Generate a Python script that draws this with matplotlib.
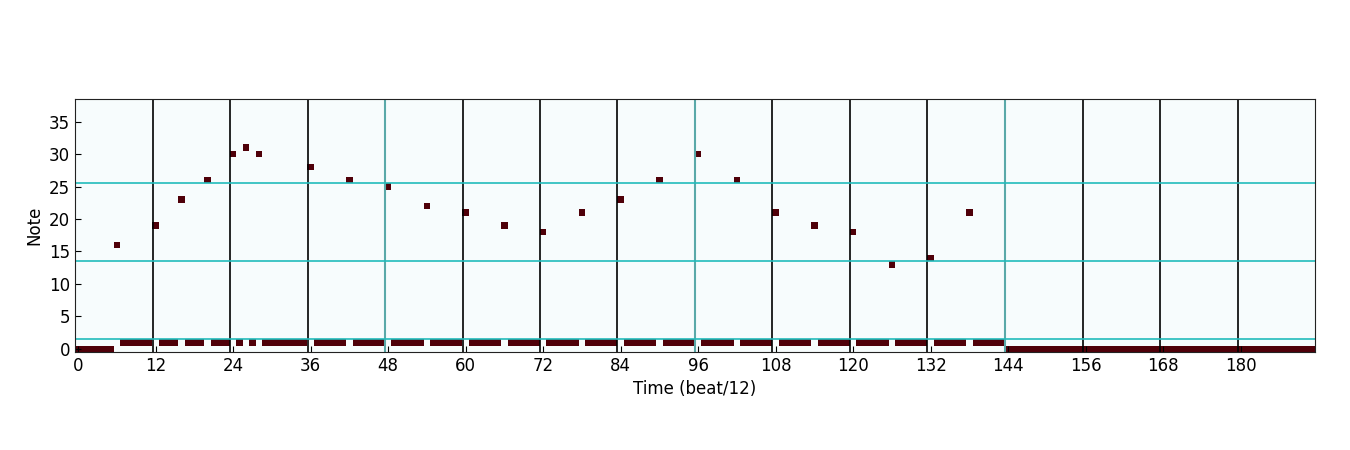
import numpy as np
import matplotlib
matplotlib.use("Agg")
import matplotlib.pyplot as plt
from matplotlib.colors import ListedColormap

# Data: note onsets (time step, pitch row); row 1 = hold, row 0 = rest
note_times = [6, 12, 16, 20, 24, 26, 28, 36, 42, 48, 54, 60, 66, 72, 78, 84,
              90, 96, 102, 108, 114, 120, 126, 132, 138]
note_pitches = [16, 19, 23, 26, 30, 31, 30, 28, 26, 25, 22, 21, 19, 18, 21, 23,
                26, 30, 26, 21, 19, 18, 13, 14, 21]
song_end = 144
n_steps = 192
n_rows = 39
xticks = list(range(0, 181, 12))
yticks = list(range(0, 36, 5))
beat_lines = [11.5, 23.5, 35.5, 59.5, 71.5, 83.5, 107.5, 119.5, 131.5, 155.5, 167.5, 179.5]
bar_lines = [47.5, 95.5, 143.5]
octave_lines = [1.5, 13.5, 25.5]

roll = np.zeros((n_rows, n_steps))
# rests
roll[0, :note_times[0]] = 1
roll[0, song_end:] = 1
ends = note_times[1:] + [song_end]
for t, p, e in zip(note_times, note_pitches, ends):
    roll[p, t] = 1
    roll[1, t + 1:e] = 1

fig = plt.figure(figsize=(13.5, 4.5), dpi=100)
ax = fig.add_axes([75 / 1350, 1 - 352 / 450, (1315 - 75) / 1350, (352 - 99) / 450])
cmap = ListedColormap(["#f7fcfd", "#4f0009"])
ax.imshow(roll, origin="lower", aspect="auto", interpolation="nearest", cmap=cmap,
          vmin=0, vmax=1)
for x in beat_lines:
    ax.axvline(x, color="black", lw=1.2)
for x in bar_lines:
    ax.axvline(x, color="#5aa9a9", lw=1.5)
for y in octave_lines:
    ax.axhline(y, color="#22bcbc", lw=1.2)

ax.set_xlim(-0.5, n_steps - 0.5)
ax.set_ylim(-0.5, n_rows - 0.5)
ax.set_xticks(xticks)
ax.set_yticks(yticks)
ax.tick_params(direction="in", length=4, labelsize=12, top=False, right=False)
ax.set_xlabel("Time (beat/12)", fontsize=12)
ax.set_ylabel("Note", fontsize=12)
for s in ax.spines.values():
    s.set_color("#222222")
fig.savefig("out.png", dpi=100)
